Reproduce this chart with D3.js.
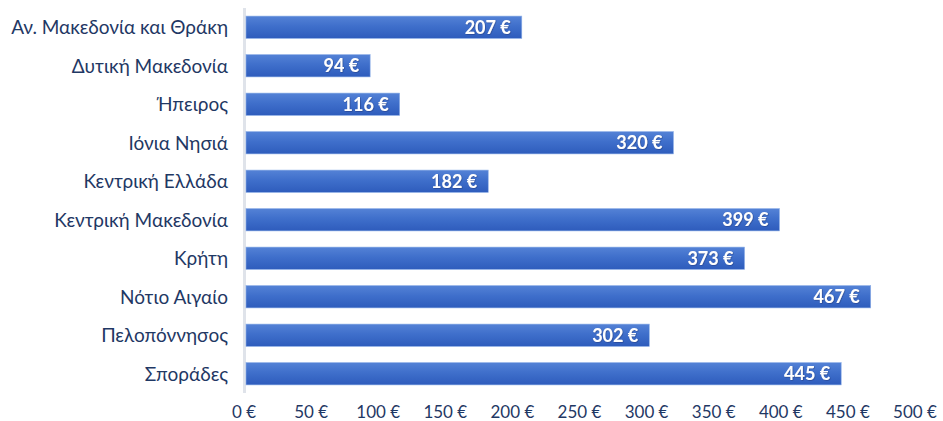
<!DOCTYPE html>
<html>
<head>
<meta charset="utf-8">
<script src="https://cdn.jsdelivr.net/npm/d3@7"></script>
<style>
    body { margin: 0; background: #fff; }
    svg { font-family: Lato, "Open Sans", sans-serif; }
    .cat text { fill: #1f3864; font-size: 19px; }
    .xaxis text { fill: #1f3864; font-size: 17px; }
    .value { fill: #fff; font-size: 18px; font-weight: bold; }
</style>
</head>
<body>
<svg id="chart" width="943" height="421"></svg>
<script>
var regions = ['Αν. Μακεδονία και Θράκη', 'Δυτική Μακεδονία', 'Ήπειρος', 'Ιόνια Νησιά',
    'Κεντρική Ελλάδα', 'Κεντρική Μακεδονία', 'Κρήτη', 'Νότιο Αιγαίο', 'Πελοπόννησος', 'Σποράδες'];
var amounts = [207, 94, 116, 320, 182, 399, 373, 467, 302, 445];
var ticks = [0, 50, 100, 150, 200, 250, 300, 350, 400, 450, 500];

var svg = d3.select('#chart');
var plotLeft = 244;
var plotRight = 915;
var plotTop = 8;
var plotBottom = 393;

var xScale = d3.scaleLinear().domain([0, 500]).range([plotLeft, plotRight]);
var yScale = d3.scaleBand().domain(regions).range([plotTop, plotBottom]).paddingInner(0.42).paddingOuter(0.21);

var defs = svg.append('defs');
var grad = defs.append('linearGradient').attr('id', 'barGrad')
    .attr('x1', 0).attr('y1', 0).attr('x2', 0).attr('y2', 1);
grad.append('stop').attr('offset', '0%').attr('stop-color', '#5482d6');
grad.append('stop').attr('offset', '45%').attr('stop-color', '#3f6fcb');
grad.append('stop').attr('offset', '100%').attr('stop-color', '#2e5cbc');

var filter = defs.append('filter').attr('id', 'shadow');
filter.append('feDropShadow').attr('dx', 0.6).attr('dy', 0.6).attr('stdDeviation', 0.5)
    .attr('flood-color', '#1a2f66').attr('flood-opacity', 0.6);

// axis line
svg.append('line')
    .attr('x1', plotLeft + 0.5).attr('x2', plotLeft + 0.5)
    .attr('y1', plotTop).attr('y2', plotBottom)
    .attr('stroke', '#dfe3ea').attr('stroke-width', 3);

svg.append('g').attr('class', 'bars')
    .selectAll('rect')
    .data(amounts)
    .enter()
    .append('rect')
    .attr('x', xScale(0) + 2)
    .attr('y', function (d, i) { return yScale(regions[i]); })
    .attr('width', function (d) { return xScale(d) - xScale(0) - 2; })
    .attr('height', yScale.bandwidth())
    .attr('fill', 'url(#barGrad)')
    .attr('stroke', '#8fb0e8')
    .attr('stroke-width', 0.6);

svg.append('g')
    .selectAll('text')
    .data(amounts)
    .enter()
    .append('text')
    .attr('class', 'value')
    .attr('x', function (d) { return xScale(d) - 11; })
    .attr('y', function (d, i) { return yScale(regions[i]) + yScale.bandwidth() / 2; })
    .attr('dy', '0.36em')
    .attr('text-anchor', 'end')
    .attr('filter', 'url(#shadow)')
    .text(function (d) { return d + ' €'; });

svg.append('g').attr('class', 'cat')
    .selectAll('text')
    .data(regions)
    .enter()
    .append('text')
    .attr('x', 228)
    .attr('y', function (d) { return yScale(d) + yScale.bandwidth() / 2; })
    .attr('dy', '0.36em')
    .attr('text-anchor', 'end')
    .text(function (d) { return d; });

svg.append('g').attr('class', 'xaxis')
    .selectAll('text')
    .data(ticks)
    .enter()
    .append('text')
    .attr('x', function (d) { return xScale(d); })
    .attr('y', 418)
    .attr('text-anchor', 'middle')
    .text(function (d) { return d + ' €'; });
</script>
</body>
</html>
